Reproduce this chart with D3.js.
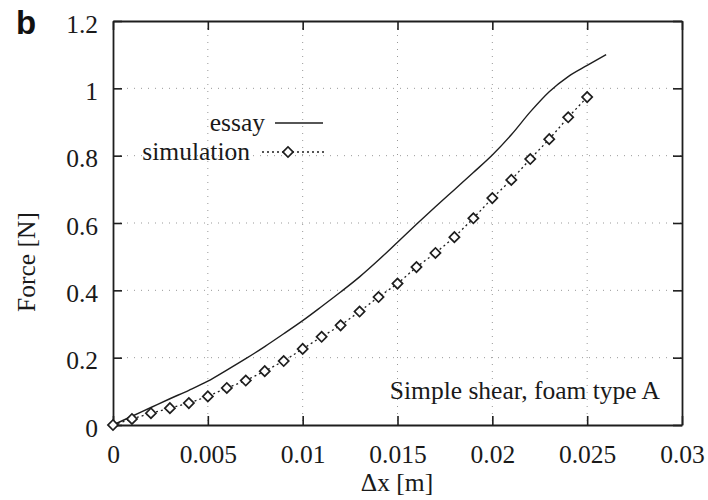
<!DOCTYPE html>
<html><head><meta charset="utf-8">
<script src="https://cdn.jsdelivr.net/npm/d3@7"></script>
<style>body{margin:0;background:#fff}svg{display:block}</style>
</head><body><svg id="c" width="708" height="500"></svg>
<script>
const xTicks = [0, 0.005, 0.01, 0.015, 0.02, 0.025, 0.03];
const xTickLabels = ["0", "0.005", "0.01", "0.015", "0.02", "0.025", "0.03"];
const yTicks = [0, 0.2, 0.4, 0.6, 0.8, 1, 1.2];
const yTickLabels = ["0", "0.2", "0.4", "0.6", "0.8", "1", "1.2"];
const essayX = [0, 0.001, 0.002, 0.003, 0.004, 0.005, 0.006, 0.007, 0.008, 0.009, 0.010, 0.011, 0.012, 0.013, 0.014, 0.015, 0.016, 0.017, 0.018, 0.019, 0.020, 0.021, 0.022, 0.023, 0.024, 0.025, 0.026];
const essayY = [0, 0.026, 0.052, 0.078, 0.103, 0.13, 0.163, 0.197, 0.233, 0.271, 0.31, 0.352, 0.395, 0.44, 0.49, 0.543, 0.596, 0.648, 0.699, 0.75, 0.802, 0.862, 0.93, 0.99, 1.035, 1.068, 1.10];
const simX = [0, 0.001, 0.002, 0.003, 0.004, 0.005, 0.006, 0.007, 0.008, 0.009, 0.010, 0.011, 0.012, 0.013, 0.014, 0.015, 0.016, 0.017, 0.018, 0.019, 0.020, 0.021, 0.022, 0.023, 0.024, 0.025];
const simY = [0, 0.018, 0.035, 0.05, 0.065, 0.085, 0.11, 0.132, 0.16, 0.19, 0.226, 0.262, 0.296, 0.337, 0.38, 0.42, 0.469, 0.511, 0.558, 0.614, 0.674, 0.728, 0.79, 0.849, 0.914, 0.974];
const seriesNames = ["essay", "simulation"];
const annotation = "Simple shear, foam type A";

const svg = d3.select("#c");
const L = 113, R = 682, T = 21, B = 425;
const x = d3.scaleLinear().domain([0, 0.03]).range([L, R]);
const y = d3.scaleLinear().domain([0, 1.2]).range([B, T]);
const ink = "#1e1e1e";
const FONT = "Liberation Serif, DejaVu Serif, serif";
const FS = 25.5;

// grid
const g = svg.append("g");
g.selectAll(".gx").data(xTicks.slice(1, -1)).join("line")
  .attr("x1", d => x(d)).attr("x2", d => x(d)).attr("y1", T).attr("y2", B)
  .attr("stroke", "#999").attr("stroke-width", 1).attr("stroke-dasharray", "1,6");
g.selectAll(".gy").data(yTicks.slice(1, -1)).join("line")
  .attr("y1", d => y(d)).attr("y2", d => y(d)).attr("x1", L).attr("x2", R)
  .attr("stroke", "#999").attr("stroke-width", 1).attr("stroke-dasharray", "1,6");

// axes
const ax = d3.axisBottom(x).tickValues(xTicks).tickFormat((d, i) => xTickLabels[i]).tickSizeInner(-9).tickSizeOuter(0);
const ay = d3.axisLeft(y).tickValues(yTicks).tickFormat((d, i) => yTickLabels[i]).tickSizeInner(-9).tickSizeOuter(0);
const axt = d3.axisTop(x).tickValues(xTicks).tickFormat("").tickSizeInner(-9).tickSizeOuter(0);
const ayr = d3.axisRight(y).tickValues(yTicks).tickFormat("").tickSizeInner(-9).tickSizeOuter(0);
function style(sel) {
  sel.attr("font-family", FONT).attr("font-size", FS);
  sel.selectAll("path").attr("stroke", ink).attr("stroke-width", 1.8);
  sel.selectAll("line").attr("stroke", ink).attr("stroke-width", 1.6);
  sel.selectAll("text").attr("fill", "#1a1a1a").attr("dy", null);
  return sel;
}
style(svg.append("g").attr("transform", `translate(0,${B})`).call(ax)).selectAll("text").attr("y", 38);
style(svg.append("g").attr("transform", `translate(${L},0)`).call(ay)).selectAll("text").attr("x", -15).attr("y", 11);
style(svg.append("g").attr("transform", `translate(0,${T})`).call(axt));
style(svg.append("g").attr("transform", `translate(${R},0)`).call(ayr));

// lines
const essay = essayX.map((d, i) => [d, essayY[i]]);
const sim = simX.map((d, i) => [d, simY[i]]);
const line = d3.line().x(d => x(d[0])).y(d => y(d[1])).curve(d3.curveMonotoneX);
svg.append("path").datum(essay).attr("d", line).attr("fill", "none").attr("stroke", ink).attr("stroke-width", 1.4);
svg.append("path").datum(sim).attr("d", d3.line().x(d => x(d[0])).y(d => y(d[1]))).attr("fill", "none")
  .attr("stroke", ink).attr("stroke-width", 1.3).attr("stroke-dasharray", "2,3");
const diamond = d3.symbol().type(d3.symbolSquare).size(52);
svg.selectAll(".m").data(sim).join("path").attr("d", diamond)
  .attr("transform", d => `translate(${x(d[0])},${y(d[1])}) rotate(45)`)
  .attr("fill", "#fff").attr("stroke", ink).attr("stroke-width", 1.7);

const txt = (xx, yy, s, anchor) => svg.append("text").attr("x", xx).attr("y", yy).attr("text-anchor", anchor)
  .attr("font-family", FONT).attr("font-size", FS).attr("fill", "#1a1a1a").text(s);

// legend
txt(265, 131, seriesNames[0], "end");
svg.append("line").attr("x1", 275).attr("x2", 323).attr("y1", 123).attr("y2", 123).attr("stroke", ink).attr("stroke-width", 1.4);
txt(250, 160, seriesNames[1], "end");
svg.append("line").attr("x1", 262).attr("x2", 324).attr("y1", 152).attr("y2", 152).attr("stroke", ink).attr("stroke-width", 1.3).attr("stroke-dasharray", "2,3");
svg.append("path").attr("d", diamond).attr("transform", "translate(288,152) rotate(45)").attr("fill", "#fff").attr("stroke", ink).attr("stroke-width", 1.7);

// annotation
txt(660, 399, annotation, "end");

// axis labels
txt(397, 491, "Δx [m]", "middle");
svg.append("text").attr("transform", "translate(35,262) rotate(-90)").attr("text-anchor", "middle")
  .attr("font-family", FONT).attr("font-size", FS).attr("fill", "#1a1a1a").text("Force [N]");
svg.append("text").attr("x", 16).attr("y", 34).attr("font-family", "Liberation Sans, Arial, sans-serif")
  .attr("font-size", 33).attr("font-weight", "bold").attr("fill", "#111").text("b");
</script></body></html>
